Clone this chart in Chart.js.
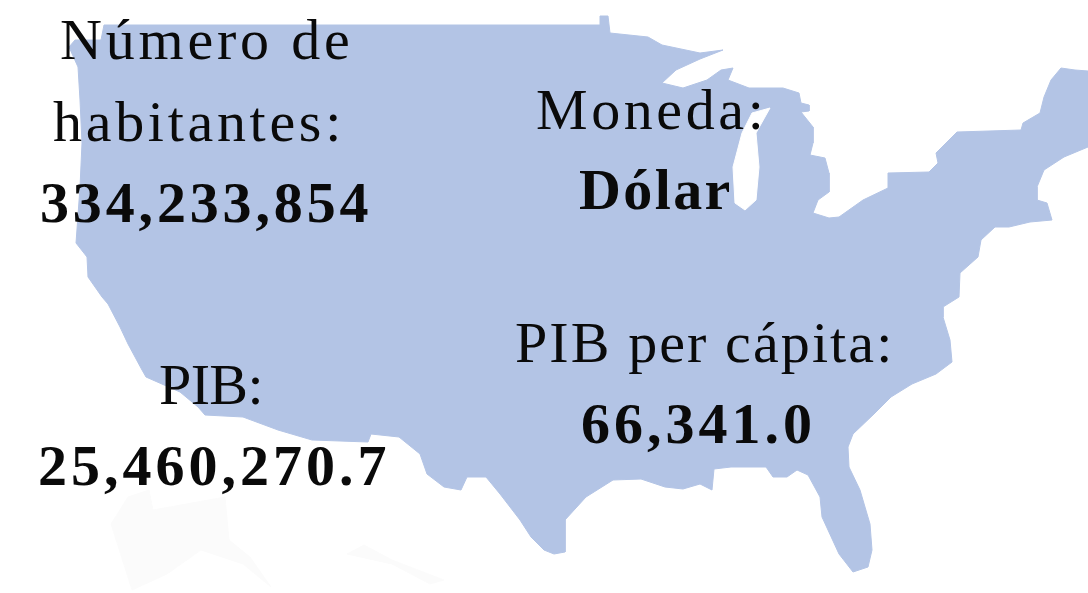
<!DOCTYPE html>
<html lang="es">
<head>
<meta charset="utf-8">
<title>Estados Unidos</title>
<script src="https://cdn.jsdelivr.net/npm/chart.js@4"></script>
<style>
    html, body { margin: 0; padding: 0; background: #fff; }
    #wrap { position: relative; width: 1088px; height: 593px; overflow: hidden; }
    #wrap canvas { position: absolute; left: 0; top: 0; }
    .t { position: absolute; white-space: nowrap; color: #0a0a0a; font-family: "Liberation Serif", serif; font-size: 58px; line-height: 70px; }
    .t.b { font-weight: bold; }
</style>
</head>
<body>
<div id="wrap">
    <canvas id="map" width="1088" height="593"></canvas>
    <div class="t" style="left:60px;top:5px;letter-spacing:3.8px">Número de</div>
    <div class="t" style="left:53px;top:87px;letter-spacing:3.7px">habitantes:</div>
    <div class="t b" style="left:40px;top:168px;letter-spacing:3.85px">334,233,854</div>
    <div class="t" style="left:536px;top:75px;letter-spacing:3.6px">Moneda:</div>
    <div class="t b" style="left:579px;top:155px;letter-spacing:2.4px">Dólar</div>
    <div class="t" style="left:159px;top:350px;letter-spacing:-0.6px">PIB:</div>
    <div class="t b" style="left:38px;top:431px;letter-spacing:4px">25,460,270.7</div>
    <div class="t" style="left:515px;top:308px;letter-spacing:2.1px">PIB per cápita:</div>
    <div class="t b" style="left:581px;top:389px;letter-spacing:4px">66,341.0</div>
</div>
<script>
// contorno del mapa
const usaX = [104, 600, 600, 608, 610, 648, 662, 700, 723, 700, 676, 662, 683, 707, 721, 733, 728, 749, 783, 799, 801, 809, 809, 801, 813, 813, 810, 825, 829, 829, 818, 813, 829, 839, 863, 888, 888, 929, 938, 936, 957, 1021, 1023, 1040, 1044, 1051, 1061, 1075, 1088, 1088, 1064, 1044, 1037, 1037, 1047, 1052, 1030, 1009, 995, 981, 978, 960, 959, 943, 943, 950, 952, 936, 912, 891, 874, 853, 848, 849, 860, 870, 872, 868, 853, 839, 822, 820, 808, 797, 787, 773, 766, 731, 714, 712, 700, 683, 665, 641, 613, 586, 565, 565, 554, 544, 531, 520, 500, 486, 467, 461, 444, 427, 420, 399, 371, 368, 312, 278, 243, 205, 198, 180, 146, 142, 128, 120, 108, 102, 88, 87, 76, 80, 82, 80, 78, 69, 75, 101, 104];
const usaY = [25, 25, 16, 16, 33, 37, 45, 53, 50, 59, 70, 83, 88, 80, 70, 68, 80, 88, 88, 93, 103, 105, 111, 112, 127, 143, 155, 158, 173, 192, 200, 213, 218, 217, 200, 188, 173, 172, 163, 153, 132, 130, 123, 113, 97, 80, 68, 70, 71, 147, 157, 170, 187, 200, 203, 220, 222, 227, 227, 240, 257, 273, 297, 307, 317, 340, 362, 374, 384, 397, 414, 434, 447, 467, 490, 524, 550, 567, 572, 554, 517, 497, 475, 470, 477, 477, 467, 467, 469, 490, 484, 489, 487, 479, 480, 497, 520, 552, 554, 550, 537, 520, 494, 477, 477, 490, 487, 474, 454, 437, 434, 442, 440, 430, 417, 415, 407, 392, 377, 370, 344, 327, 304, 297, 277, 257, 243, 187, 143, 100, 67, 47, 40, 40, 25];

const lakeX = [770, 756, 759, 756, 745, 735, 733, 742, 752, 770];
const lakeY = [108, 133, 167, 200, 210, 203, 167, 133, 113, 108];

// Alaska y Hawai casi no se ven en el original
const alaskaX = [128, 149, 153, 225, 229, 250, 271, 243, 201, 167, 132, 111, 128];
const alaskaY = [497, 490, 510, 497, 540, 557, 587, 564, 550, 574, 590, 524, 497];
const hawaiiX = [347, 364, 392, 444, 430, 392, 347];
const hawaiiY = [554, 545, 560, 580, 584, 564, 554];

const toPoints = (xs, ys) => xs.map((x, i) => ({ x: x, y: ys[i] }));

function shape(label, xs, ys, color, order) {
    return {
        label: label,
        data: toPoints(xs, ys),
        showLine: true,
        fill: 'shape',
        backgroundColor: color,
        borderColor: color,
        borderWidth: 1,
        tension: 0,
        pointRadius: 0,
        order: order
    };
}

new Chart(document.getElementById('map').getContext('2d'), {
    type: 'scatter',
    data: {
        datasets: [
            shape('Lago', lakeX, lakeY, '#ffffff', 0),
            shape('EE. UU.', usaX, usaY, '#b3c4e5', 1),
            shape('Alaska', alaskaX, alaskaY, '#fbfbfb', 2),
            shape('Hawai', hawaiiX, hawaiiY, '#fbfbfb', 2)
        ]
    },
    options: {
        responsive: false,
        animation: false,
        layout: { padding: 0 },
        plugins: { legend: { display: false }, tooltip: { enabled: false } },
        scales: {
            x: { display: false, min: 0, max: 1088 },
            y: { display: false, min: 0, max: 593, reverse: true }
        }
    }
});
</script>
</body>
</html>
